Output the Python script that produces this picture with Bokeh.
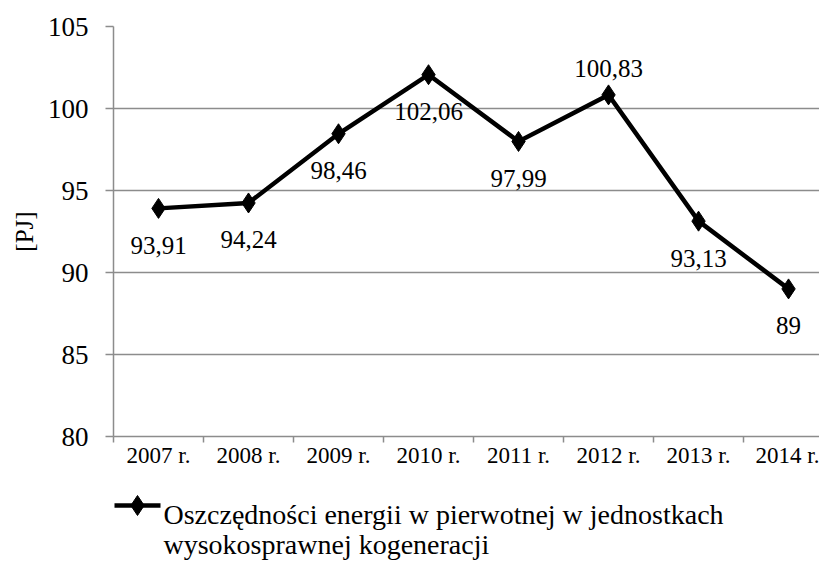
from bokeh.plotting import figure
from bokeh.layouts import column
from bokeh.models import Range1d, FixedTicker, ColumnDataSource
from bokeh.core.properties import value
from bokeh.embed import file_html
from bokeh.resources import INLINE

years = ["2007 r.", "2008 r.", "2009 r.", "2010 r.", "2011 r.", "2012 r.", "2013 r.", "2014 r."]
savings = [93.91, 94.24, 98.46, 102.06, 97.99, 100.83, 93.13, 89.0]
value_labels = ["93,91", "94,24", "98,46", "102,06", "97,99", "100,83", "93,13", "89"]
label_side = ["below", "below", "below", "below", "below", "above", "below", "below"]
y_ticks = [80, 85, 90, 95, 100, 105]
series_name = ["Oszczędności energii w pierwotnej w jednostkach",
               "wysokosprawnej kogeneracji"]

FONT = "Liberation Serif"
GRID = "#8c8c8c"
WIN_W, WIN_H = 819, 562

LEFT, MAIN_TOP, FRAME_W, FRAME_H, MAIN_BOTTOM = 113, 26, 706, 410, 48
p = figure(frame_width=FRAME_W, frame_height=FRAME_H, output_backend="svg",
           toolbar_location=None, title=None,
           x_range=Range1d(-0.5, 7.344), y_range=Range1d(80, 105),
           min_border_left=LEFT, min_border_right=0, min_border_top=MAIN_TOP,
           min_border_bottom=MAIN_BOTTOM)
p.outline_line_color = None
p.background_fill_color = "white"
p.border_fill_color = "white"

idx = list(range(len(years)))
src = ColumnDataSource(dict(x=idx, y=savings, lab=value_labels,
                            off=[37 if s == "below" else -26 for s in label_side]))

p.line("x", "y", source=src, line_color="black", line_width=4.5, line_join="miter")
p.scatter("x", "y", source=src, marker="diamond", size=20, fill_color="black",
          line_color="black")
p.text("x", "y", text="lab", source=src, y_offset="off", text_align="center",
       text_baseline="middle", text_font=value(FONT), text_font_size="25px",
       text_color="black")

# x axis: labels at category centres, tick marks between categories
xa = p.xaxis[0]
xa.ticker = FixedTicker(ticks=idx, minor_ticks=[i - 0.5 for i in range(len(years) + 1)])
xa.major_label_overrides = {i: y for i, y in enumerate(years)}
xa.major_tick_line_color = None
xa.major_tick_out = 6
xa.major_tick_in = 0
xa.minor_tick_line_color = GRID
xa.minor_tick_line_width = 1.5
xa.minor_tick_out = 6
xa.minor_tick_in = 0
xa.axis_line_color = GRID
xa.axis_line_width = 1.5
xa.major_label_text_font = FONT
xa.major_label_text_font_size = "23px"
xa.major_label_text_color = "black"
xa.major_label_standoff = 0

# y axis
ya = p.yaxis[0]
ya.ticker = FixedTicker(ticks=y_ticks, minor_ticks=[])
ya.major_tick_line_color = GRID
ya.major_tick_line_width = 1.5
ya.major_tick_out = 8
ya.major_tick_in = 0
ya.axis_line_color = GRID
ya.axis_line_width = 1.5
ya.major_label_text_font = FONT
ya.major_label_text_font_size = "27px"
ya.major_label_text_color = "black"
ya.major_label_standoff = 17
ya.axis_label = "[PJ]"
ya.axis_label_text_font = FONT
ya.axis_label_text_font_size = "25px"
ya.axis_label_text_font_style = "normal"
ya.axis_label_text_color = "black"
ya.axis_label_standoff = 7

p.xgrid.grid_line_color = None
p.ygrid.ticker = FixedTicker(ticks=y_ticks)
p.ygrid.grid_line_color = GRID
p.ygrid.grid_line_width = 1.5

# legend panel below the chart; its frame is aligned with the chart's frame,
# so its x range is expressed in window pixels from LEFT to the right edge
main_h = MAIN_TOP + FRAME_H + MAIN_BOTTOM
leg_h = WIN_H - main_h
lg = figure(frame_width=FRAME_W, frame_height=leg_h, output_backend="svg",
            toolbar_location=None, title=None, x_range=Range1d(LEFT, WIN_W),
            y_range=Range1d(leg_h, 0),
            min_border_left=LEFT, min_border_right=0, min_border_top=0,
            min_border_bottom=0, x_axis_location=None, y_axis_location=None)
lg.outline_line_color = None
lg.grid.grid_line_color = None
lg.background_fill_color = "white"
lg.border_fill_color = "white"

base1 = 514 - main_h
base2 = 544 - main_h
mark_y = 505 - main_h
lg.line([114, 160], [mark_y, mark_y], line_color="black", line_width=4.5)
lg.scatter([137], [mark_y], marker="diamond", size=20, fill_color="black",
           line_color="black")
lg.text([163, 163], [base1, base2], text=series_name, text_align="left",
        text_baseline="alphabetic", text_font=value(FONT), text_font_size="28px",
        text_color="black")

layout = column(p, lg, spacing=0)
open("out.html", "w").write(file_html(layout, INLINE))
